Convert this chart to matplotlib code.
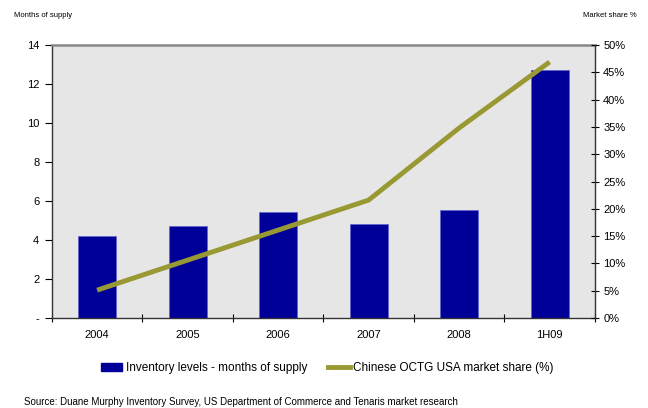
import numpy as np
import matplotlib.pyplot as plt
from matplotlib.patches import Patch
from matplotlib.lines import Line2D

plt.rcParams['font.family'] = ['Liberation Sans', 'DejaVu Sans']

# data
periods = ['2004', '2005', '2006', '2007', '2008', '1H09']
inventory_months = [4.2, 4.7, 5.45, 4.8, 5.55, 12.7]
chinese_share = [5.1, 10.6, 16.1, 21.6, 34.8, 46.9]
left_ticks = [0, 2, 4, 6, 8, 10, 12, 14]
left_labels = ['-', '2', '4', '6', '8', '10', '12', '14']
right_ticks = [0, 5, 10, 15, 20, 25, 30, 35, 40, 45, 50]

bar_color = '#000099'
line_color = '#999933'

fig = plt.figure(figsize=(6.48, 4.08), dpi=100)
ax = fig.add_axes([0.080, 0.2206, 0.838, 0.669])
ax.set_facecolor('#E6E6E6')

x = np.arange(len(periods))
ax.bar(x, inventory_months, width=0.42, color=bar_color,
       edgecolor='#6666CC', linewidth=0.6, zorder=2)
ax.set_xlim(-0.5, len(periods) - 0.5)
ax.set_ylim(0, 14)
ax.set_yticks(left_ticks)
ax.set_yticklabels(left_labels, fontsize=8)

# x ticks at category boundaries, labels at centers
ax.set_xticks(np.arange(-0.5, len(periods), 1.0))
ax.set_xticklabels([])
ax.set_xticks(x, minor=True)
ax.set_xticklabels(periods, minor=True, fontsize=8)
ax.tick_params(axis='x', which='minor', length=0, pad=9)
ax.tick_params(axis='x', which='major', direction='inout', length=6, width=0.8)
ax.tick_params(axis='y', direction='out', length=5, width=0.8, pad=4)

for side in ['left', 'bottom']:
    ax.spines[side].set_color('#333333')
    ax.spines[side].set_linewidth(1.0)
ax.spines['top'].set_color('#888888')
ax.spines['top'].set_linewidth(1.8)
ax.spines['right'].set_visible(False)

ax2 = ax.twinx()
ax2.plot(x, chinese_share, color=line_color, linewidth=3.5,
         solid_capstyle='butt', zorder=3)
ax2.set_ylim(0, 50)
ax2.set_yticks(right_ticks)
ax2.set_yticklabels([f'{t}%' for t in right_ticks], fontsize=8)
ax2.tick_params(axis='y', direction='inout', length=6, width=0.8, pad=3)
ax2.spines['right'].set_color('#333333')
ax2.spines['right'].set_linewidth(1.0)
for side in ['left', 'top', 'bottom']:
    ax2.spines[side].set_visible(False)

fig.text(0.022, 0.962, 'Months of supply', fontsize=5.5, ha='left', va='center')
fig.text(0.982, 0.962, 'Market share %', fontsize=5.5, ha='right', va='center')

handles = [Patch(facecolor=bar_color, edgecolor=bar_color),
           Line2D([0], [0], color=line_color, linewidth=3.5)]
fig.legend(handles, ['Inventory levels - months of supply',
                     'Chinese OCTG USA market share (%)'],
           loc='center', bbox_to_anchor=(0.505, 0.098), ncol=2, frameon=False,
           fontsize=8.5, handlelength=1.8, handletextpad=0.3, columnspacing=1.8)

fig.text(0.037, 0.014, 'Source: Duane Murphy Inventory Survey, US Department of Commerce and Tenaris market research',
         fontsize=7, ha='left', va='center')

fig.savefig('out.png', dpi=100)
